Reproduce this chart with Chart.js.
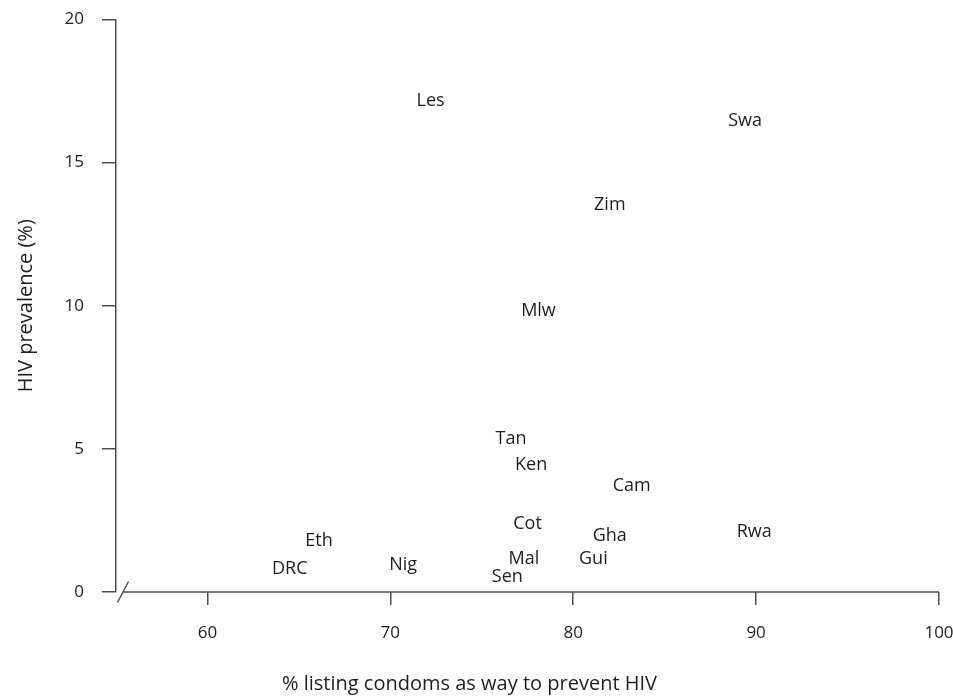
<!DOCTYPE html>
<html>
<head>
<meta charset="utf-8">
<title>HIV prevalence vs condom awareness</title>
<script src="https://cdn.jsdelivr.net/npm/chart.js@4/dist/chart.umd.min.js"></script>
<style>
  html, body { margin: 0; padding: 0; background: #ffffff; }
  #wrap { width: 953px; height: 696px; }
</style>
</head>
<body>
<div id="wrap"><canvas id="chart" width="953" height="696"></canvas></div>
<script>
// Country abbreviations, % listing condoms as a way to prevent HIV, HIV prevalence (%)
const countries  = ['DRC', 'Eth', 'Nig', 'Les', 'Sen', 'Tan', 'Mal', 'Cot', 'Ken', 'Mlw', 'Gui', 'Gha', 'Zim', 'Cam', 'Swa', 'Rwa'];
const condomPct  = [64.5, 66.1, 70.7, 72.2, 76.4, 76.6, 77.3, 77.5, 77.7, 78.1, 81.1, 82.0, 82.0, 83.2, 89.4, 89.9];
const hivPrev    = [0.84, 1.82, 1.01, 17.2, 0.59, 5.41, 1.22, 2.41, 4.50, 9.85, 1.22, 1.99, 13.56, 3.77, 16.5, 2.15];

const xTicks = [60, 70, 80, 90, 100];
const yTicks = [0, 5, 10, 15, 20];

const AXIS_COLOR = '#4d4d4d';
const TEXT_COLOR = '#1e1e1e';
const FONT = '"Open Sans", "Liberation Sans", sans-serif';

// Each country is drawn as its abbreviation, centred on the data point
const textMarks = {
  id: 'textMarks',
  afterDatasetsDraw(chart) {
    const ctx = chart.ctx;
    const meta = chart.getDatasetMeta(0);
    const size = 18;
    ctx.save();
    ctx.font = size + 'px ' + FONT;
    ctx.fillStyle = TEXT_COLOR;
    ctx.textAlign = 'center';
    ctx.textBaseline = 'alphabetic';
    meta.data.forEach((pt, i) => {
      ctx.fillText(countries[i], pt.x, pt.y + size * 0.714 / 2);
    });
    ctx.restore();
  }
};

// x axis line with a break mark next to the y axis
const brokenXAxis = {
  id: 'brokenXAxis',
  afterDraw(chart) {
    const ctx = chart.ctx;
    const xs = chart.scales.x;
    const y0 = chart.chartArea.bottom;
    const start = xs.left + 7;
    ctx.save();
    ctx.strokeStyle = AXIS_COLOR;
    ctx.lineWidth = 1.5;
    ctx.beginPath();
    ctx.moveTo(start, y0);
    ctx.lineTo(xs.getPixelForValue(100), y0);
    ctx.moveTo(start - 5.5, y0 + 10.5);
    ctx.lineTo(start + 5.5, y0 - 10.5);
    ctx.stroke();
    ctx.restore();
  }
};

new Chart(document.getElementById('chart'), {
  type: 'scatter',
  data: {
    datasets: [{
      data: condomPct.map((x, i) => ({ x: x, y: hivPrev[i] })),
      pointRadius: 0,
      pointHoverRadius: 0
    }]
  },
  options: {
    responsive: false,
    animation: false,
    events: [],
    layout: { padding: { left: 0, right: 14, top: 19.5, bottom: 0 } },
    plugins: {
      legend: { display: false },
      tooltip: { enabled: false },
      title: {
        display: true,
        position: 'bottom',
        text: '% listing condoms as way to prevent HIV',
        color: TEXT_COLOR,
        font: { family: FONT, size: 20, weight: 'normal' },
        padding: { top: 21, bottom: 0 }
      }
    },
    scales: {
      x: {
        type: 'linear',
        min: 55,
        max: 100,
        afterBuildTicks(scale) { scale.ticks = xTicks.map(v => ({ value: v })); },
        afterFit(scale) {
          scale.height = 59;
          scale.paddingLeft = 0;
          scale.paddingRight = 0;
        },
        border: { display: false },
        grid: {
          display: true,
          drawOnChartArea: false,
          drawTicks: true,
          tickLength: 13,
          color: AXIS_COLOR,
          lineWidth: 1.5
        },
        ticks: {
          color: TEXT_COLOR,
          font: { family: FONT, size: 17 },
          padding: 18,
          maxRotation: 0,
          autoSkip: false
        }
      },
      y: {
        type: 'linear',
        min: 0,
        max: 20,
        afterBuildTicks(scale) { scale.ticks = yTicks.map(v => ({ value: v })); },
        afterFit(scale) {
          scale.width = 116;
          scale.paddingTop = 0;
          scale.paddingBottom = 0;
        },
        border: { display: true, color: AXIS_COLOR, width: 1.5 },
        grid: {
          display: true,
          drawOnChartArea: false,
          drawTicks: true,
          tickLength: 14,
          color: AXIS_COLOR,
          lineWidth: 1.5
        },
        ticks: {
          color: TEXT_COLOR,
          font: { family: FONT, size: 17 },
          padding: 18
        },
        title: {
          display: true,
          text: 'HIV prevalence (%)',
          color: TEXT_COLOR,
          font: { family: FONT, size: 20, weight: 'normal' },
          padding: { top: 14, bottom: 0 }
        }
      }
    }
  },
  plugins: [textMarks, brokenXAxis]
});
</script>
</body>
</html>
